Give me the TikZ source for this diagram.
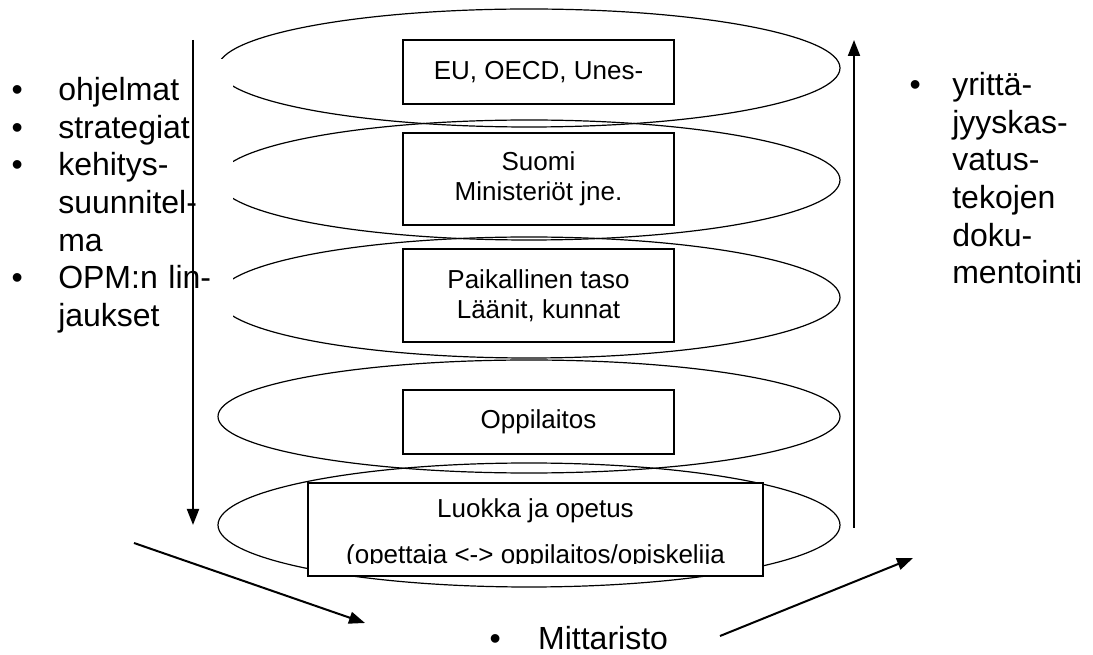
\documentclass[tikz,border=0pt]{standalone}
\usepackage{fontspec}
\setmainfont{Liberation Sans}
\usetikzlibrary{shapes.geometric,arrows.meta}

\begin{document}
\begin{tikzpicture}[x=0.75pt, y=-0.75pt,
    every node/.style={inner sep=0pt},
    level/.style={ellipse, draw, line width=0.9pt, minimum width=466.5pt},
    box/.style={rectangle, draw, fill=white, line width=1pt, align=center,
        font=\fontsize{19.5}{22.5}\selectfont},
    boxtext/.style={font=\fontsize{19.5}{22.5}\selectfont, anchor=base},
    list/.style={font=\fontsize{24}{28.3}\selectfont, align=left},
    arrow/.style={line width=1.5pt, -{Triangle[length=12pt,width=9pt]}}
]
\useasboundingbox (0,0) rectangle (1093,655);

% levels
\node[level, minimum height=88.5pt] (lev1) at (529,68) {};
\node[level, minimum height=90pt] (lev2) at (529,180) {};
\node[level, minimum height=90.75pt] (lev3) at (529,297.5) {};
\node[level, minimum height=84.75pt] (lev4) at (529,416.5) {};
\node[level, minimum height=93pt] (lev5) at (529,525) {};

% left list
\node[list, fill=white, anchor=north west, inner ysep=11.25pt, text width=174.75pt] (plans) at (0,58.6)
    {\noindent\begin{tabular}{@{\hspace{8.5pt}}p{35pt}@{}l@{}}
    \textbullet & ohjelmat\\
    \textbullet & strategiat\\
    \textbullet & kehitys-\\
     & suunnitel-\\
     & ma\\
    \textbullet & OPM:n lin-\\
     & jaukset
    \end{tabular}};

% boxes
\node[box, minimum width=203.25pt, minimum height=48pt] (eu) at (538.5,72) {EU, OECD, Unes-};
\node[box, minimum width=203.25pt, minimum height=69pt] (suomi) at (538.5,179) {Suomi\\Ministeriöt jne.};
\node[box, minimum width=203.25pt, minimum height=69.75pt] (paik) at (538.5,295.5) {Paikallinen taso\\Läänit, kunnat};
\node[box, minimum width=203.25pt, minimum height=48pt] (oppil) at (538.5,422) {Oppilaitos};
\node[box, minimum width=341.25pt, minimum height=69.75pt] (luokka) at (535.5,529.5) {};
\begin{scope}
\clip (luokka.north west) rectangle ([yshift=9.75pt]luokka.south east);
\node[boxtext] (luokka1) at (535.5,518) {Luokka ja opetus};
\node[boxtext] (luokka2) at (535.5,564) {(opettaja <-> oppilaitos/opiskelija};
\end{scope}

% arrows
\coordinate (down1) at (193,40);
\coordinate (down2) at (193,525);
\coordinate (up1) at (854,528);
\coordinate (up2) at (854,40);
\coordinate (in1) at (134,543);
\coordinate (in2) at (365,623);
\coordinate (out1) at (720,636);
\coordinate (out2) at (913,558);
\draw[arrow] (down1) -- (down2);
\draw[arrow] (up1) -- (up2);
\draw[arrow] (in1) -- (in2);
\draw[arrow] (out1) -- (out2);

% right list
\node[list, anchor=north west] (deeds) at (909.4,68.6)
    {\begin{tabular}{@{}p{32pt}@{}l@{}}
    \textbullet & yrittä-\\
     & jyyskas-\\
     & vatus-\\
     & tekojen\\
     & doku-\\
     & mentointi
    \end{tabular}};

\node[list, anchor=base west] (meter) at (489.4,650) {\textbullet\hspace{28pt}Mittaristo};

\end{tikzpicture}
\end{document}
